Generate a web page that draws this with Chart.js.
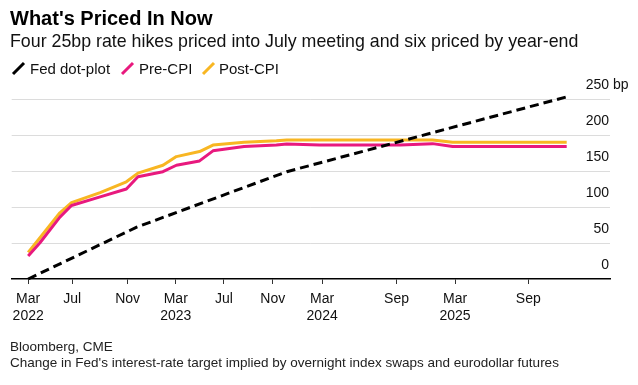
<!DOCTYPE html>
<html>
<head>
<meta charset="utf-8">
<script src="https://cdn.jsdelivr.net/npm/chart.js@4.4.1/dist/chart.umd.min.js"></script>
<style>
html,body{margin:0;padding:0;background:#fff;}
body{width:638px;height:385px;position:relative;overflow:hidden;font-family:"Liberation Sans",Arial,sans-serif;}
.t{position:absolute;white-space:nowrap;line-height:1;}
#title{left:10px;top:8.4px;font-size:20px;font-weight:bold;color:#000;}
#subtitle{left:10px;top:33.2px;font-size:17.8px;color:#111;}
.lg{top:61.3px;font-size:15px;color:#111;}
.sw{position:absolute;top:61px;}
#src{left:10px;top:340px;font-size:13.5px;color:#222;}
#note{left:10px;top:356px;font-size:13.5px;color:#222;}
canvas{position:absolute;left:0;top:0;}
</style>
</head>
<body>
<canvas id="c" width="638" height="385"></canvas>
<div class="t" id="title">What's Priced In Now</div>
<div class="t" id="subtitle">Four 25bp rate hikes priced into July meeting and six priced by year-end</div>
<div id="legend"></div>
<div class="t" id="src">Bloomberg, CME</div>
<div class="t" id="note">Change in Fed's interest-rate target implied by overnight index swaps and eurodollar futures</div>
<script>
// ---- data ----
// x positions are in "period index" units of the chart's (non-linear) date axis
const xTickPos = [0, 7.2, 16.3, 24.2, 32.1, 40.1, 48.2, 60.4, 70, 82];
const xTickLabels = [['Mar','2022'],'Jul','Nov',['Mar','2023'],'Jul','Nov',['Mar','2024'],'Sep',['Mar','2025'],'Sep'];

const marketX = [0, 1.9, 5.2, 7.1, 11.8, 16.1, 18, 22.1, 24.3, 28.1, 30.3, 35.4, 40.7, 42.4, 47.8, 61, 66.3, 69.6, 88.3];
const preCPI  = [32, 50, 86, 102, 114, 125, 142, 149, 158, 164, 178, 184, 186, 187.5, 186, 186, 188, 184, 184];
const postCPI = [37, 57, 92, 106, 120, 135, 147, 158, 170, 177, 186, 190, 192, 193, 193, 193, 193, 190, 190];

const dotPlotX = [0, 17.8, 42.4, 88.3];
const dotPlot  = [0, 72, 149, 253];

const yTicks = [0, 50, 100, 150, 200, 250];
const yUnit = 'bp';

const seriesNames = ['Fed dot-plot', 'Pre-CPI', 'Post-CPI'];
const seriesColors = ['#000000', '#e8197e', '#f8b622'];

// ---- legend (HTML) ----
const legendPos = [{sw:11, tx:30}, {sw:120, tx:139}, {sw:201, tx:219}];
const lg = document.getElementById('legend');
seriesNames.forEach((n, i) => {
  const s = document.createElement('div');
  s.className = 'sw';
  s.style.left = legendPos[i].sw + 'px';
  s.innerHTML = '<svg width="15" height="15"><line x1="2" y1="13" x2="13" y2="2" stroke="' + seriesColors[i] + '" stroke-width="3"/></svg>';
  lg.appendChild(s);
  const t = document.createElement('div');
  t.className = 't lg';
  t.style.left = legendPos[i].tx + 'px';
  t.textContent = n;
  lg.appendChild(t);
});

// ---- chart ----
Chart.defaults.font.family = '"Liberation Sans", Arial, sans-serif';
Chart.defaults.color = '#111';

const yLabelPlugin = {
  id: 'yLabels',
  afterDraw(chart) {
    const ctx = chart.ctx, ys = chart.scales.y, right = chart.chartArea.right;
    ctx.save();
    ctx.font = '14px "Liberation Sans", Arial, sans-serif';
    ctx.fillStyle = '#111';
    ctx.textBaseline = 'middle';
    yTicks.forEach((v, i) => {
      const py = ys.getPixelForValue(v) - 13.5;
      ctx.textAlign = 'right';
      ctx.fillText(String(v), right - 1, py);
      if (i === yTicks.length - 1) {
        ctx.textAlign = 'left';
        ctx.fillText(' ' + yUnit, right - 1, py);
      }
    });
    ctx.restore();
  }
};

new Chart(document.getElementById('c'), {
  type: 'line',
  data: {
    datasets: [
      {label: seriesNames[0], data: dotPlotX.map((x, i) => ({x, y: dotPlot[i]})),
       borderColor: seriesColors[0], borderWidth: 3, borderDash: [9, 5], clip: false},
      {label: seriesNames[1], data: marketX.map((x, i) => ({x, y: preCPI[i]})),
       borderColor: seriesColors[1], borderWidth: 3, clip: false},
      {label: seriesNames[2], data: marketX.map((x, i) => ({x, y: postCPI[i]})),
       borderColor: seriesColors[2], borderWidth: 3, clip: false}
    ]
  },
  options: {
    responsive: false,
    animation: false,
    events: [],
    elements: {point: {radius: 0}, line: {tension: 0, borderJoinStyle: 'round'}},
    layout: {padding: {left: 11.7, top: 99, right: 0, bottom: 0}},
    plugins: {legend: {display: false}, tooltip: {enabled: false}},
    scales: {
      x: {
        type: 'linear', min: -2.7, max: 95.4,
        afterBuildTicks: s => { s.ticks = xTickPos.map(v => ({value: v})); },
        afterFit: s => { s.height = 106; },
        ticks: {autoSkip: false, maxRotation: 0, padding: 6.6, color: '#111',
                font: {size: 14}, callback: (v, i) => xTickLabels[i]},
        grid: {drawOnChartArea: false, drawTicks: true, tickLength: 5, color: '#333', lineWidth: 1},
        border: {display: true, color: '#000', width: 1.5}
      },
      y: {
        position: 'right', min: 0, max: 250,
        afterFit: s => { s.width = 28; },
        ticks: {display: false, stepSize: 50},
        grid: {color: ctx => (ctx.tick && ctx.tick.value === 0) ? 'rgba(0,0,0,0)' : '#dcdcdc',
               lineWidth: 1, drawTicks: false},
        border: {display: false}
      }
    }
  },
  plugins: [yLabelPlugin]
});
</script>
</body>
</html>
